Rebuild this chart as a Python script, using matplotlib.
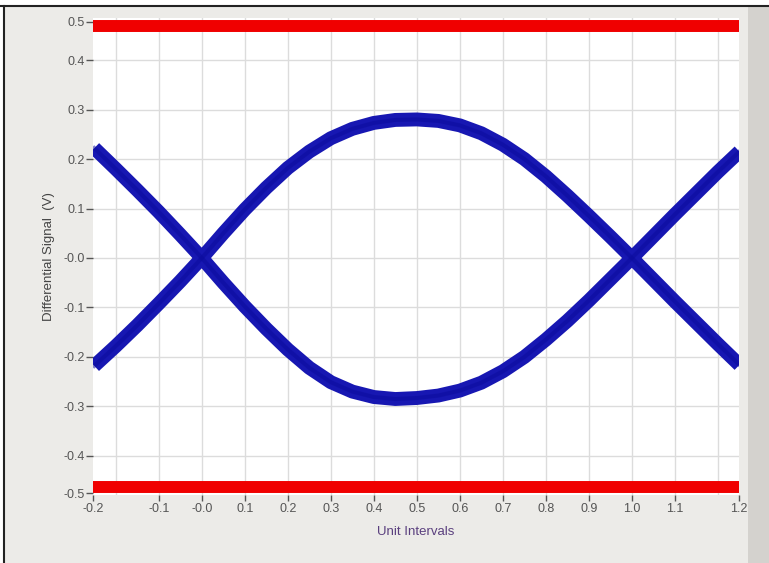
import matplotlib
matplotlib.use('Agg')
import matplotlib.pyplot as plt
from matplotlib.patches import Rectangle
from matplotlib.lines import Line2D

# unit intervals sampled along the eye
ui = [-0.25, -0.2, -0.15, -0.1, -0.05, 0.0, 0.05, 0.1, 0.15, 0.2, 0.25, 0.3, 0.35, 0.4, 0.45,
      0.5, 0.55, 0.6, 0.65, 0.7, 0.75, 0.8, 0.85, 0.9, 0.95, 1.0, 1.05, 1.1, 1.15, 1.2, 1.25]
upper_arc = [-0.218, -0.178, -0.136, -0.092, -0.047, 0.0, 0.05, 0.098, 0.142, 0.182, 0.215, 0.242,
             0.261, 0.273, 0.279, 0.28, 0.277, 0.268, 0.252, 0.229, 0.2, 0.165, 0.126, 0.085,
             0.043, 0.0, -0.044, -0.088, -0.131, -0.174, -0.216]
lower_arc = [0.222, 0.18, 0.137, 0.093, 0.047, 0.0, -0.05, -0.098, -0.143, -0.185, -0.222, -0.251,
             -0.27, -0.281, -0.285, -0.283, -0.278, -0.268, -0.252, -0.229, -0.2, -0.165,
             -0.127, -0.086, -0.043, 0.0, 0.044, 0.088, 0.131, 0.174, 0.215]
mask_levels = [0.469, -0.463]

x_ticks = [-0.253, -0.1, 0.0, 0.1, 0.2, 0.3, 0.4, 0.5, 0.6, 0.7, 0.8, 0.9, 1.0, 1.1, 1.249]
x_labels = ['-0.2', '-0.1', '-0.0', '0.1', '0.2', '0.3', '0.4', '0.5', '0.6', '0.7', '0.8',
            '0.9', '1.0', '1.1', '1.2']
y_ticks = [0.477, 0.4, 0.3, 0.2, 0.1, 0.0, -0.1, -0.2, -0.3, -0.4, -0.475]
y_labels = ['0.5', '0.4', '0.3', '0.2', '0.1', '-0.0', '-0.1', '-0.2', '-0.3', '-0.4', '-0.5']
grid_x = [-0.2, -0.1, 0.0, 0.1, 0.2, 0.3, 0.4, 0.5, 0.6, 0.7, 0.8, 0.9, 1.0, 1.1, 1.2]
grid_y = [0.4, 0.3, 0.2, 0.1, 0.0, -0.1, -0.2, -0.3, -0.4]

plt.rcParams['font.family'] = ['Liberation Sans', 'DejaVu Sans']

fig = plt.figure(figsize=(7.69, 5.63), dpi=100, facecolor='white')
W, H = 769, 563

# window background and frame
fig.add_artist(Rectangle((4 / W, 0), 1, 1 - 6 / H, transform=fig.transFigure,
                         facecolor='#ecebe8', edgecolor='none', zorder=0))
fig.add_artist(Rectangle((748 / W, 0), 21 / W, 1 - 6 / H, transform=fig.transFigure,
                         facecolor='#d4d2ce', edgecolor='none', zorder=0))
fig.add_artist(Line2D([0, 1], [1 - 6 / H, 1 - 6 / H], transform=fig.transFigure,
                      color='#222222', lw=1.5))
fig.add_artist(Line2D([4 / W, 4 / W], [0, 1 - 6 / H], transform=fig.transFigure,
                      color='#222222', lw=1.5))

ax = fig.add_axes([93 / W, 1 - 495 / H, (739 - 93) / W, (495 - 18) / H])
ax.set_facecolor('white')
ax.set_xlim(-0.253, 1.249)
ax.set_ylim(-0.479, 0.485)

for gx in grid_x:
    ax.axvline(gx, color='#dcdcdc', lw=1, zorder=1)
for gy in grid_y:
    ax.axhline(gy, color='#dcdcdc', lw=1, zorder=1)

for arc in (upper_arc, lower_arc):
    ax.plot(ui, arc, color='#1717b2', lw=10, solid_capstyle='butt',
            solid_joinstyle='round', zorder=3)
    ax.plot(ui, arc, color='#0b0b9c', lw=3, alpha=0.5, solid_joinstyle='round', zorder=4)

for lvl in mask_levels:
    ax.axhline(lvl, color='#f00000', lw=8.6, solid_capstyle='butt', zorder=5)

for s in ax.spines.values():
    s.set_visible(False)

ax.set_xticks(x_ticks)
ax.set_xticklabels(x_labels)
ax.set_yticks(y_ticks)
ax.set_yticklabels(y_labels)
ax.tick_params(axis='x', direction='out', length=4, width=1, color='#555555',
               labelsize=9, labelcolor='#555555', pad=2)
ax.tick_params(axis='y', direction='out', length=5, width=1, color='#555555',
               labelsize=9, labelcolor='#555555', pad=1)

ax.set_xlabel('Unit Intervals', fontsize=9.5, color='#5a3f7e', labelpad=8)
ax.set_ylabel('Differential Signal  (V)', fontsize=9.5, color='#444444', labelpad=6)

fig.savefig('out.png', dpi=100)
